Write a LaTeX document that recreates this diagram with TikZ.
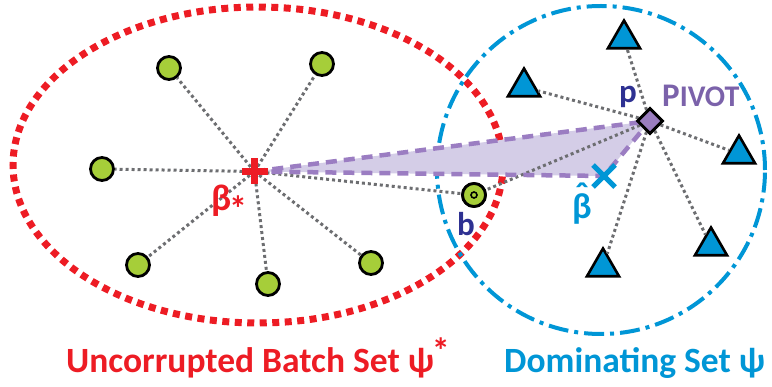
\documentclass[tikz,border=0pt]{standalone}
\usepackage{fontspec}
\setmainfont{Carlito}
\usetikzlibrary{shapes.geometric,positioning,calc}
\definecolor{setred}{HTML}{ED1C24}
\definecolor{setblue}{HTML}{0096D6}
\definecolor{ptgreen}{HTML}{A6CE39}
\definecolor{linkgray}{HTML}{6D6E71}
\definecolor{hullpurple}{HTML}{9B7DC2}
\definecolor{hullfill}{HTML}{D4CDE7}
\definecolor{pivotpurple}{HTML}{9A7DBF}
\definecolor{pivottext}{HTML}{7B62AA}
\definecolor{navy}{HTML}{2E3192}
\tikzset{
  greenpt/.style={circle,draw=black,line width=2.8pt,fill=ptgreen,minimum size=23pt,inner sep=0pt},
  tri/.style={regular polygon,regular polygon sides=3,draw=black,line width=2.6pt,fill=setblue,minimum size=37pt,inner sep=0pt},
  pivotpt/.style={diamond,draw=black,line width=2.8pt,fill=pivotpurple,minimum size=26pt,inner sep=0pt},
  link/.style={draw=linkgray,line width=3pt,dash pattern=on 3pt off 3pt},
  hull/.style={draw=hullpurple,line width=4.5pt,dash pattern=on 11pt off 7pt},
  lbl/.style={font=\bfseries\fontsize{33}{33}\selectfont,inner sep=0pt},
  setlbl/.style={font=\bfseries\fontsize{35.5}{35.5}\selectfont,inner sep=0pt,anchor=base west}
}
\begin{document}
\begin{tikzpicture}[x=1pt,y=-1pt]
  \useasboundingbox (0,0) rectangle (772,387);
  \draw[setred,line width=7pt,dash pattern=on 7pt off 5.5pt] (258,165) ellipse [x radius=245pt,y radius=158pt];
  \draw[setblue,line width=4pt,dash pattern=on 20pt off 6pt on 4pt off 6pt] (601,170) circle [radius=164pt];

  \coordinate (bstar) at (254.5,171.5);
  \coordinate (bhat) at (604,176);
  \node[pivotpt] (pivot) at (650,121) {};

  \fill[hullfill] (bstar) -- (pivot.center) -- (bhat) -- cycle;

  \node[greenpt] (g1) at (169,68) {};
  \node[greenpt] (g2) at (322,64) {};
  \node[greenpt] (g3) at (102,169) {};
  \node[greenpt] (g4) at (138,265) {};
  \node[greenpt] (g5) at (268,284) {};
  \node[greenpt] (g6) at (371,263) {};
  \node[greenpt] (b) at (474,195) {};
  \node[tri] (t1) at (624,39) {};
  \node[tri] (t2) at (524,87) {};
  \node[tri] (t3) at (739,154) {};
  \node[tri] (t4) at (711,246) {};
  \node[tri] (t5) at (603,267) {};

  \foreach \n in {g1,g2,g3,g4,g5,g6,b}
    \draw[link] (bstar) -- (\n);
  \foreach \n in {t1,t2,t3,t4,t5,b}
    \draw[link] (pivot) -- (\n);

  \draw[hull] (bstar) -- (pivot.center) -- (bhat) -- (bstar);

  \node[greenpt] at (b) {};
  \draw[black,line width=1.6pt] (b) circle [radius=3pt];
  \node[pivotpt] at (pivot) {};

  \draw[setred,line width=6.5pt] ($(bstar)+(-13,0)$) -- ($(bstar)+(13,0)$)
    ($(bstar)+(0,-13)$) -- ($(bstar)+(0,13)$);
  \draw[setblue,line width=5pt] ($(bhat)+(-11,-11)$) -- ($(bhat)+(11,11)$)
    ($(bhat)+(-11,11)$) -- ($(bhat)+(11,-11)$);

  \node[lbl,text=setred,font=\bfseries\fontsize{37}{37}\selectfont] (bstarlbl) at (229,203) {β\kern-0.06em\raisebox{-0.3em}{\fontsize{36}{36}\selectfont *}};
  \node[lbl,text=navy] (blbl) at (466,224) {b};
  \node[lbl,text=navy] (plbl) at (628,97) {p};
  \node[lbl,text=pivottext,anchor=base west] (pivotlbl) at (662,107) {P{\fontsize{30}{30}\selectfont IVOT}};
  \node[lbl,text=setblue,font=\bfseries\fontsize{36}{36}\selectfont] (bhatlbl) at (582,206) {\ooalign{β\cr\hfil\raisebox{0.3em}{ˆ}\hfil\cr}};

  \node[setlbl,text=setred] (unclbl) at (66,373) {Uncorrupted Batch Set ψ\kern-0.06em\raisebox{0.28em}{\fontsize{36}{36}\selectfont *}};
  \node[setlbl,text=setblue] (domlbl) at (504,373) {Dominating Set ψ};
\end{tikzpicture}
\end{document}
